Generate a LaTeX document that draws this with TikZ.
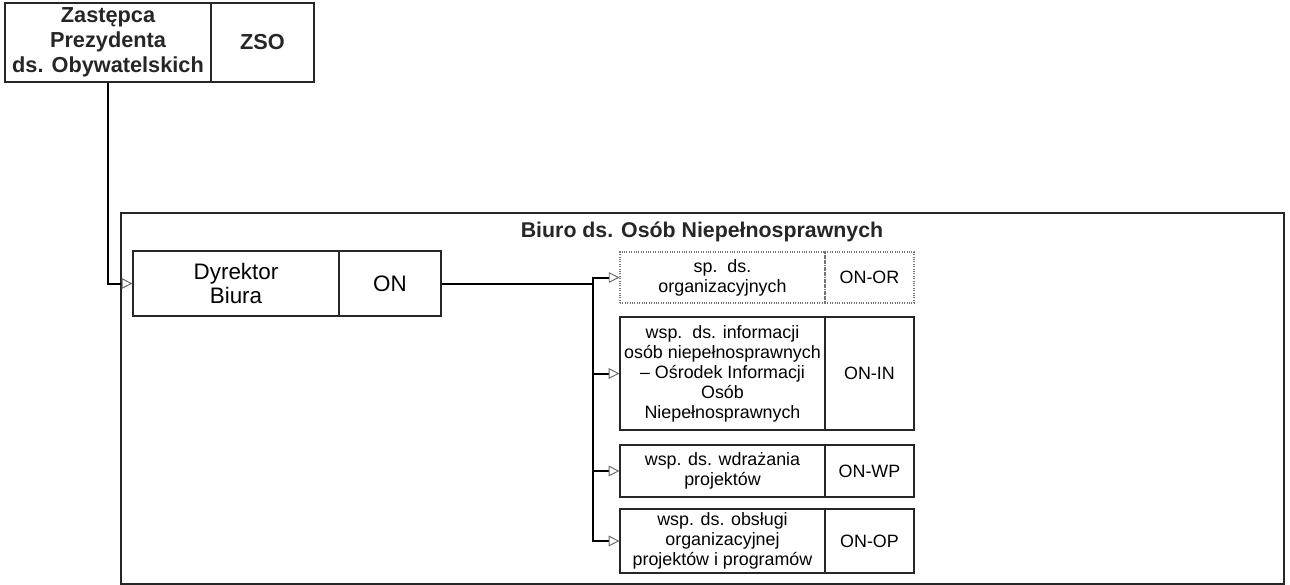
\documentclass[tikz,border=0pt]{standalone}
\usepackage{fontspec}
\setmainfont{Liberation Sans}
\usetikzlibrary{arrows.meta}
\begin{document}
\begin{tikzpicture}[x=0.75pt,y=-0.75pt,
  cell/.style={draw=black!85, line width=0.9pt, inner sep=0pt, align=center, anchor=center},
  dotcell/.style={draw=black!55, densely dotted, line width=0.8pt, inner sep=0pt, align=center, anchor=center},
  topfont/.style={font=\bfseries\fontsize{16.3}{18.8}\selectfont, text=black!85},
  dyrfont/.style={font=\fontsize{16.8}{17.5}\selectfont},
  smallfont/.style={font=\fontsize{13.4}{15}\selectfont},
  conn/.style={line width=1.5pt, black},
  arr/.style={line width=1.5pt, black, -{Triangle[open, length=8pt, width=8pt, line width=0.7pt, color=black!60]}}
]
\useasboundingbox (0,0) rectangle (1290,585);
% frame
\node[draw=black!85, line width=0.9pt, minimum width=1163*0.75pt, minimum height=371*0.75pt, inner sep=0pt] (frame) at (702.5,398.5) {};
\node[font=\bfseries\fontsize{16}{18}\selectfont, text=black!85] (title) at (702,232) {Biuro ds. Osób Niepełnosprawnych};
% top box
\node[cell, topfont, minimum width=206*0.75pt, minimum height=79*0.75pt] (zl) at (108,42.5) {Zastępca\\Prezydenta\\ds. Obywatelskich};
\node[cell, topfont, minimum width=103*0.75pt, minimum height=79*0.75pt] (zr) at (262.5,42.5) {ZSO};
% dyrektor
\node[cell, fill=white, dyrfont, minimum width=206*0.75pt, minimum height=65*0.75pt] (dyr) at (236,283.5) {Dyrektor\\Biura};
\node[cell, fill=white, dyrfont, minimum width=102*0.75pt, minimum height=65*0.75pt] (on) at (390,283.5) {ON};
% right boxes
\node[dotcell, smallfont, minimum width=205*0.75pt, minimum height=51*0.75pt] (orl) at (722.5,277.5) {sp.\ \ ds.\\organizacyjnych};
\node[dotcell, smallfont, minimum width=89*0.75pt, minimum height=51*0.75pt] (orr) at (869.5,277.5) {ON-OR};
\node[cell, smallfont, minimum width=205*0.75pt, minimum height=113*0.75pt] (inl) at (722.5,373.5) {wsp.\ \ ds. informacji\\osób niepełnosprawnych\\– Ośrodek Informacji\\Osób\\Niepełnosprawnych};
\node[cell, smallfont, minimum width=89*0.75pt, minimum height=113*0.75pt] (inr) at (869.5,373.5) {ON-IN};
\node[cell, smallfont, minimum width=205*0.75pt, minimum height=52*0.75pt] (wpl) at (722.5,471) {wsp. ds. wdrażania\\projektów};
\node[cell, smallfont, minimum width=89*0.75pt, minimum height=52*0.75pt] (wpr) at (869.5,471) {ON-WP};
\node[cell, smallfont, minimum width=205*0.75pt, minimum height=64*0.75pt] (opl) at (722.5,541) {wsp. ds. obsługi\\organizacyjnej\\projektów i programów};
\node[cell, smallfont, minimum width=89*0.75pt, minimum height=64*0.75pt] (opr) at (869.5,541) {ON-OP};
% connectors
\draw[arr] (zl.south) |- (dyr.west);
\coordinate (bus) at (593,283.5);
\draw[conn] (on.east) -- (bus);
\draw[arr] (bus) |- (orl.west);
\draw[arr] (bus) |- (inl.west);
\draw[arr] (bus) |- (wpl.west);
\draw[arr] (bus) |- (opl.west);
\end{tikzpicture}
\end{document}
